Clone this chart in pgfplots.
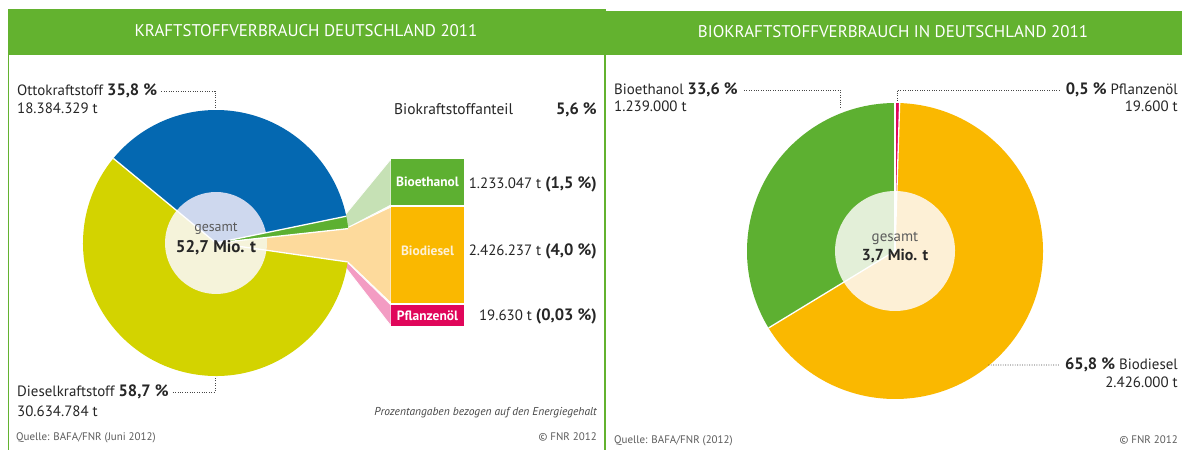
\documentclass[border=0pt]{standalone}
\usepackage{pgfplots}
\pgfplotsset{compat=1.18}
\usepackage{pgfplotstable}
\usepackage{fontspec}
\setmainfont{PT Sans}

\definecolor{hdr}{HTML}{63B22F}
\definecolor{txt}{HTML}{262626}
\definecolor{otto}{HTML}{0468B1}
\definecolor{ottoL}{HTML}{CED8EE}
\definecolor{diesel}{HTML}{D3D300}
\definecolor{dieselL}{HTML}{F5F3DA}
\definecolor{eth}{HTML}{5DB031}
\definecolor{ethL}{HTML}{C6E1B5}
\definecolor{ethT}{HTML}{E3EFD8}
\definecolor{bd}{HTML}{FAB800}
\definecolor{bdL}{HTML}{FDDA9C}
\definecolor{bdT}{HTML}{FDF0D6}
\definecolor{pfl}{HTML}{E0065A}
\definecolor{pflL}{HTML}{F39CC3}

\pgfplotstableread{
fuel pct
Otto 35.8
Bioethanol 1.5
Biodiesel 4.0
Pflanzenoel 0.03
Diesel 58.7
}\fuels

\pgfplotstableread{
fuel pct
Pflanzenoel 0.5
Biodiesel 65.8
Bioethanol 33.6
}\biofuels

\newcommand\pieWedge[4]{\fill[#4, overlay] (axis cs:0,0) -- ++(#1:#3) arc[start angle=#1, end angle=#2, radius=#3] -- cycle;}
\newcommand\pieSep[2]{\draw[white, line width=1.3bp, overlay] (axis cs:0,0) -- ++(#1:#2);}
\newcommand\reg{\fontsize{15}{18}\selectfont}
\newcommand\pctf{\fontsize{16.5}{19}\selectfont\bfseries}

\tikzset{dots/.style={draw=txt!85, line width=0.9bp, dash pattern=on 0.9bp off 1.5bp}}

\begin{document}%
\begin{tikzpicture}[x=1bp,y=1bp, text=txt, font=\reg]
\pgfplotstablegetelem{0}{pct}\of\fuels \edef\pOtto{\pgfplotsretval}
\pgfplotstablegetelem{1}{pct}\of\fuels \edef\pEth{\pgfplotsretval}
\pgfplotstablegetelem{2}{pct}\of\fuels \edef\pBd{\pgfplotsretval}
\pgfplotstablegetelem{3}{pct}\of\fuels \edef\pPfl{\pgfplotsretval}
\pgfplotstablegetelem{4}{pct}\of\fuels \edef\pDiesel{\pgfplotsretval}
\pgfplotstablegetelem{0}{pct}\of\biofuels \edef\qPfl{\pgfplotsretval}
\pgfplotstablegetelem{1}{pct}\of\biofuels \edef\qBd{\pgfplotsretval}
\pgfplotstablegetelem{2}{pct}\of\biofuels \edef\qEth{\pgfplotsretval}
\pgfmathsetmacro\aA{140.5}
\pgfmathsetmacro\aB{\aA-3.6*\pOtto}
\pgfmathsetmacro\aC{\aB-3.6*\pEth}
\pgfmathsetmacro\aD{\aC-3.6*\pBd}
\pgfmathsetmacro\aE{\aD-3.6*\pPfl}
\pgfmathsetmacro\aF{\aE-3.6*\pDiesel}
\pgfmathsetmacro\bA{90}
\pgfmathsetmacro\bB{\bA-3.6*\qPfl}
\pgfmathsetmacro\bC{\bB-3.6*\qBd}
\pgfmathsetmacro\bD{\bC-3.6*\qEth}
\fill[white] (0,0) rectangle (1182,-450);
% headers and frames
\fill[hdr] (8,-9) rectangle (606,-55);
\fill[hdr] (606,-11) rectangle (1182,-55);
\draw[hdr, line width=1.6bp] (8.5,-55) -- (8.5,-450);
\draw[hdr, line width=1.6bp] (605,-55) -- (605,-450);
\node[white] at (306,-31) {\fontsize{17}{19}\selectfont KRAFTSTOFFVERBRAUCH DEUTSCHLAND 2011};
\node[white] at (893,-32) {\fontsize{17}{19}\selectfont BIOKRAFTSTOFFVERBRAUCH IN DEUTSCHLAND 2011};

% funnels (left)
\fill[ethL, draw=white, line width=0.8bp] (216,-243) -- (345,-215) -- (391,-159) -- (391,-205) -- (347,-228) -- cycle;
\fill[bdL, draw=white, line width=0.8bp] (216,-243) -- (347,-228) -- (391,-207) -- (391,-303) -- (347,-261) -- cycle;
\fill[pflL, draw=white, line width=0.8bp] (216,-243) -- (347,-262) -- (391,-305) -- (391,-326) -- (346,-268) -- cycle;
\fill[eth] (391,-159) rectangle (464,-205);
\fill[bd] (391,-207) rectangle (464,-303);
\fill[pfl] (391,-305) rectangle (464,-326);
\node[white] at (427.5,-182) {\fontsize{13.5}{16}\selectfont\bfseries Bioethanol};
\node[bdT] at (427.5,-251) {\fontsize{13.5}{16}\selectfont\bfseries Biodiesel};
\node[white] at (427.5,-315.5) {\fontsize{13.5}{16}\selectfont\bfseries Pflanzenöl};

% left pie
\begin{axis}[at={(216bp,-243bp)}, anchor=center, hide axis, scale only axis,
  width=266bp, height=266bp, xmin=-1, xmax=1, ymin=-1, ymax=1, clip=false]
\pieWedge{\aA}{\aB}{133bp}{otto}
\pieWedge{\aB}{\aC}{133bp}{eth}
\pieWedge{\aC}{\aD}{133bp}{bdL}
\pieWedge{\aD}{\aE}{133bp}{pflL}
\pieWedge{\aE}{\aF}{133bp}{diesel}
\pieWedge{\aA}{\aB}{51bp}{ottoL}
\pieWedge{\aE}{\aF}{51bp}{dieselL}
\pieWedge{\aC}{\aD}{51bp}{dieselL}
\pieSep{\aA}{133bp}
\pieSep{\aB}{133bp}
\pieSep{\aC}{133bp}
\pieSep{\aD}{133bp}
\end{axis}
\node[txt!75] at (216,-229) {\fontsize{14}{16}\selectfont gesamt};
\node at (216,-248) {\fontsize{17}{19}\selectfont\bfseries 52,7 Mio. t};

% left labels
\node[anchor=base west, inner sep=0pt] (otto) at (17,-96) {Ottokraftstoff {\pctf 35,8 \%}};
\draw[dots] ([xshift=4bp,yshift=5bp]otto.base east) -| (215,-109);
\node[anchor=base west, inner sep=0pt] at (17,-114) {18.384.329 t};
\node[anchor=base west, inner sep=0pt] (dies) at (17,-397) {Dieselkraftstoff {\pctf 58,7 \%}};
\draw[dots] ([xshift=4bp,yshift=5bp]dies.base east) -| (215,-378);
\node[anchor=base west, inner sep=0pt] at (17,-417) {30.634.784 t};

\node[anchor=base west, inner sep=0pt] at (394,-115) {\fontsize{15.5}{18}\selectfont Biokraftstoffanteil};
\node[anchor=base east, inner sep=0pt] at (597,-115) {\pctf 5,6 \%};
\node[anchor=base east, inner sep=0pt] at (597,-189) {1.233.047 t {\pctf(1,5 \%)}};
\node[anchor=base east, inner sep=0pt] at (597,-256) {2.426.237 t {\pctf(4,0 \%)}};
\node[anchor=base east, inner sep=0pt] at (597,-321) {19.630 t {\pctf(0,03 \%)}};

\node[anchor=base east, inner sep=0pt, txt!85] at (597,-416) {\fontsize{11.5}{13}\selectfont\itshape Prozentangaben bezogen auf den Energiegehalt};
\node[anchor=base west, inner sep=0pt, txt!75] at (16,-441) {\fontsize{11}{13}\selectfont Quelle: BAFA/FNR (Juni 2012)};
\node[anchor=base east, inner sep=0pt, txt!75] at (597,-441) {\fontsize{11}{13}\selectfont © FNR 2012};

% right pie
\begin{axis}[at={(895bp,-251bp)}, anchor=center, hide axis, scale only axis,
  width=296bp, height=296bp, xmin=-1, xmax=1, ymin=-1, ymax=1, clip=false]
\pieWedge{\bA}{\bB}{148bp}{pfl}
\pieWedge{\bB}{\bC}{148bp}{bd}
\pieWedge{\bC}{\bD}{148bp}{eth}
\pieWedge{\bB}{\bC}{60bp}{bdT}
\pieWedge{\bC}{\bD}{60bp}{ethT}
\pieSep{\bA}{148bp}
\pieSep{\bB}{148bp}
\pieSep{\bC}{148bp}
\end{axis}
\node[txt!75] at (895,-238) {\fontsize{15}{17}\selectfont gesamt};
\node at (895,-256) {\fontsize{16}{18}\selectfont\bfseries 3,7 Mio. t};

% right labels
\node[anchor=base west, inner sep=0pt] (beth) at (614,-95) {Bioethanol {\pctf 33,6 \%}};
\draw[dots] ([xshift=6bp,yshift=5bp]beth.base east) -| (840,-109);
\node[anchor=base west, inner sep=0pt] at (614,-112) {1.239.000 t};
\node[anchor=base east, inner sep=0pt] (bpfl) at (1178,-95) {{\pctf 0,5 \%} Pflanzenöl};
\draw[dots] ([xshift=-6bp,yshift=5bp]bpfl.base west) -| (897,-101);
\node[anchor=base east, inner sep=0pt] at (1178,-112) {19.600 t};
\node[anchor=base east, inner sep=0pt] (bbd) at (1178,-370) {{\pctf 65,8 \%} Biodiesel};
\draw[dots] ([xshift=-6bp,yshift=5bp]bbd.base west) -- (988,-365);
\node[anchor=base east, inner sep=0pt] at (1178,-388) {2.426.000 t};
\node[anchor=base west, inner sep=0pt, txt!75] at (614,-444) {\fontsize{11}{13}\selectfont Quelle: BAFA/FNR (2012)};
\node[anchor=base east, inner sep=0pt, txt!75] at (1178,-444) {\fontsize{11}{13}\selectfont © FNR 2012};
\pgfresetboundingbox
\path[use as bounding box] (0,0) rectangle (1182,-450);
\end{tikzpicture}%
\end{document}
